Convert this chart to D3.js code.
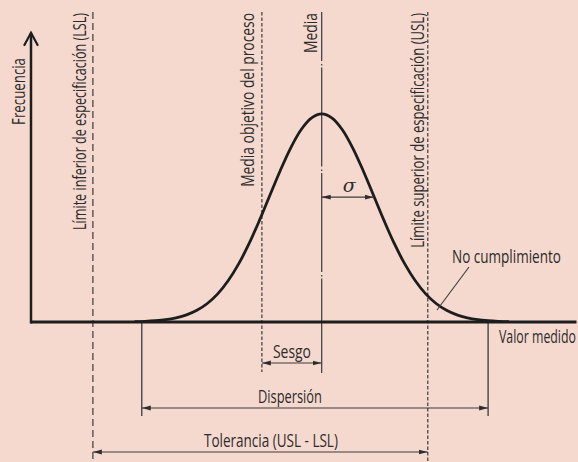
<!DOCTYPE html>
<html>
<head>
<meta charset="utf-8">
<script src="https://cdn.jsdelivr.net/npm/d3@7"></script>
<style>
  html, body { margin: 0; padding: 0; background: #f6d9ce; }
  svg { display: block; }
  text { font-family: "Liberation Sans Narrow", "Open Sans", "Liberation Sans", sans-serif; fill: #2b2b2b; }
</style>
</head>
<body>
<div id="chart"></div>
<script>
// ---- data (in units of sigma, relative to the process mean) ----
const curveX = [-3.6,-3.4,-3.2,-3.0,-2.8,-2.6,-2.4,-2.2,-2.0,-1.8,-1.6,-1.4,-1.2,-1.0,-0.8,-0.6,-0.4,-0.2,0,
                 0.2,0.4,0.6,0.8,1.0,1.2,1.4,1.6,1.8,2.0,2.2,2.4,2.6,2.8,3.0,3.2,3.4,3.6];
const curveFreq = [0.0015,0.0031,0.006,0.011,0.02,0.034,0.056,0.089,0.135,0.198,0.278,0.375,0.487,0.607,0.726,0.835,0.923,0.98,1,
                   0.98,0.923,0.835,0.726,0.607,0.487,0.375,0.278,0.198,0.135,0.089,0.056,0.034,0.02,0.011,0.006,0.0031,0.0015];
const refNames = ["LSL", "Objetivo", "Media", "USL"];
const refValues = [-4.4, -1.15, 0, 2.04];
const refLabels = ["Límite inferior de especificación (LSL)", "Media objetivo del proceso", "Media", "Límite superior de especificación (USL)"];
const spreadLimits = [-3.46, 3.2];
const sigmaValue = 1;
const sigmaFreq = 0.6;
const xDomain = [-5.6, 4.9];
const yDomain = [0, 1.49];
const axisTop = 1.39;

const W = 578, H = 462;
const FS = 17.5;
const svg = d3.select("#chart").append("svg").attr("width", W).attr("height", H);

const x = d3.scaleLinear().domain(xDomain).range([30.5, 576.5]);
const y = d3.scaleLinear().domain(yDomain).range([322, 12]);

// place a text and condense it horizontally to a target width
function fitText(tx, ty, rot, anchor, str, target) {
  const t = svg.append("text").attr("font-size", FS).attr("text-anchor", anchor).text(str);
  const w = t.node().getComputedTextLength();
  const s = Math.min(1, target / w);
  t.attr("transform", `translate(${tx},${ty}) rotate(${rot}) scale(${s},1)`);
  return t;
}

const defs = svg.append("defs");
defs.append("marker").attr("id", "arr").attr("viewBox", "0 -3 9 6")
  .attr("refX", 9).attr("refY", 0).attr("markerWidth", 9).attr("markerHeight", 6)
  .attr("markerUnits", "userSpaceOnUse").attr("orient", "auto-start-reverse")
  .append("path").attr("d", "M0,-2.4L9,0L0,2.4Z").attr("fill", "#2e2e2e");

const ink = "#1d1d1d";
const thin = "#3a3a3a";

// reference vertical lines
const refStyle = {
  LSL: { dash: "7,4", bottom: 462, offset: 0 },
  Objetivo: { dash: "3.5,2", bottom: 372, offset: 0 },
  Media: { dash: "99,3,1.5,2", bottom: 373, offset: 50 },
  USL: { dash: "3.5,2", bottom: 462, offset: 0 }
};
refNames.forEach((n, i) => {
  const s = refStyle[n];
  svg.append("line")
    .attr("x1", x(refValues[i])).attr("x2", x(refValues[i]))
    .attr("y1", y(yDomain[1])).attr("y2", s.bottom)
    .attr("stroke", thin).attr("stroke-width", 1.2)
    .attr("stroke-dasharray", s.dash).attr("stroke-dashoffset", s.offset);
});

// vertical labels
const labelLen = [217, 174, 40, 235];
const labelOff = [-6.5, -7.5, -4.5, -3.5];
refLabels.forEach((t, i) => {
  fitText(x(refValues[i]) + labelOff[i], 13, -90, "end", t, labelLen[i]);
});

// spread vertical lines
spreadLimits.forEach(v => {
  svg.append("line").attr("x1", x(v)).attr("x2", x(v)).attr("y1", y(0)).attr("y2", 416)
    .attr("stroke", thin).attr("stroke-width", 1.3);
});

// normal curve
const line = d3.line().x((d, i) => x(curveX[i])).y(d => y(d)).curve(d3.curveCatmullRom);
svg.append("path").datum(curveFreq).attr("d", line)
  .attr("fill", "none").attr("stroke", ink).attr("stroke-width", 2.8);

// axes
svg.append("line").attr("x1", x(xDomain[0])).attr("x2", x(xDomain[1])).attr("y1", y(0)).attr("y2", y(0))
  .attr("stroke", ink).attr("stroke-width", 3);
svg.append("line").attr("x1", 31).attr("x2", 31).attr("y1", y(0) + 1.5).attr("y2", y(axisTop))
  .attr("stroke", ink).attr("stroke-width", 2.5);
svg.append("path").attr("d", `M24,${y(axisTop) + 13}L31,${y(axisTop)}L38,${y(axisTop) + 13}`)
  .attr("fill", "none").attr("stroke", ink).attr("stroke-width", 2.2);

fitText(24.5, 58, -90, "end", "Frecuencia", 67);

// sigma arrow
svg.append("line").attr("x1", x(0)).attr("x2", x(sigmaValue)).attr("y1", y(sigmaFreq)).attr("y2", y(sigmaFreq))
  .attr("stroke", thin).attr("stroke-width", 1.2)
  .attr("marker-start", "url(#arr)").attr("marker-end", "url(#arr)");
svg.append("text").attr("x", (x(0) + x(sigmaValue)) / 2 + 1.5).attr("y", 192)
  .attr("text-anchor", "middle").attr("font-size", 19).attr("font-style", "italic")
  .style("font-family", "'DejaVu Serif', serif").text("σ");

// dimension lines
const dims = [
  { a: refValues[1], b: refValues[2], yy: 363, label: "Sesgo", lx: 273, ly: 358, len: 38 },
  { a: spreadLimits[0], b: spreadLimits[1], yy: 408, label: "Dispersión", lx: 258, ly: 403, len: 64 },
  { a: refValues[0], b: refValues[3], yy: 452, label: "Tolerancia (USL - LSL)", lx: 204, ly: 447, len: 134 }
];
dims.forEach(d => {
  svg.append("line").attr("x1", x(d.a)).attr("x2", x(d.b)).attr("y1", d.yy).attr("y2", d.yy)
    .attr("stroke", thin).attr("stroke-width", 1.2)
    .attr("marker-start", "url(#arr)").attr("marker-end", "url(#arr)");
  fitText(d.lx, d.ly, 0, "start", d.label, d.len);
});

// non-compliance annotation
svg.append("line").attr("x1", 469).attr("y1", 267).attr("x2", 437).attr("y2", 310)
  .attr("stroke", thin).attr("stroke-width", 1.1);
fitText(452, 263, 0, "start", "No cumplimiento", 109);
fitText(499, 343, 0, "start", "Valor medido", 77);
</script>
</body>
</html>
